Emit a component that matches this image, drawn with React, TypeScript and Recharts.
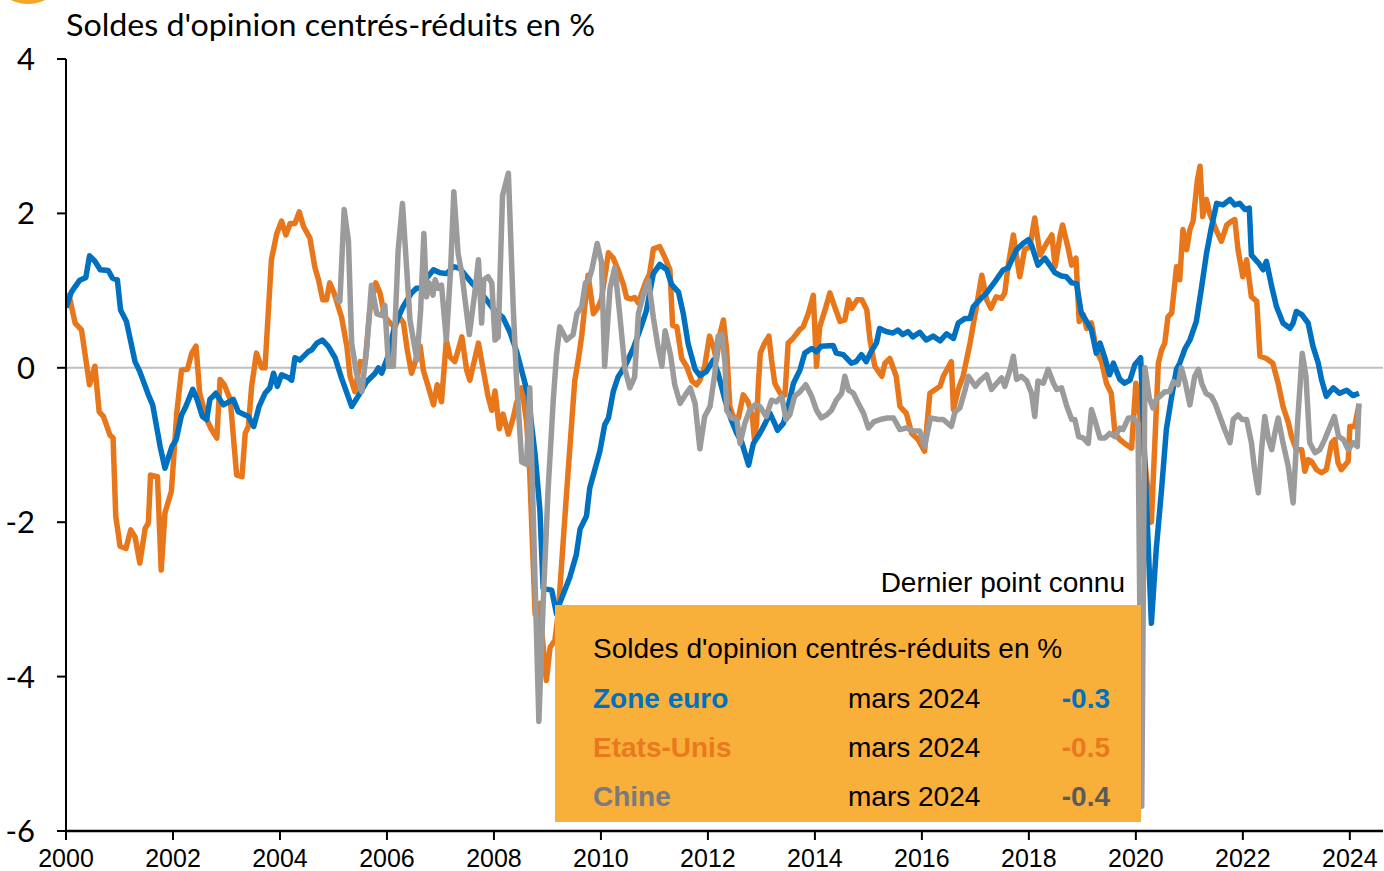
import React from 'react';
import { LineChart, Line, XAxis, YAxis, ReferenceLine } from 'recharts';

// années affichées et graduations
const yearTicks = [2000, 2002, 2004, 2006, 2008, 2010, 2012, 2014, 2016, 2018, 2020, 2022, 2024];
const valueTicks = [-6, -4, -2, 0, 2, 4];

// [date décimale, solde centré-réduit]
const zoneEuro: [number, number][] = [
  [2000.0, 0.78], [2000.1, 0.98], [2000.25, 1.13], [2000.37, 1.17], [2000.44, 1.45], [2000.54, 1.38],
  [2000.64, 1.27], [2000.79, 1.26], [2000.87, 1.16], [2000.96, 1.14], [2001.02, 0.75], [2001.13, 0.6],
  [2001.29, 0.08], [2001.38, -0.05], [2001.54, -0.35], [2001.62, -0.48], [2001.76, -1.02], [2001.85, -1.3],
  [2001.98, -1.02], [2002.06, -0.93], [2002.16, -0.61], [2002.24, -0.5], [2002.37, -0.28], [2002.45, -0.41],
  [2002.55, -0.63], [2002.63, -0.67], [2002.69, -0.41], [2002.8, -0.33], [2002.94, -0.48], [2003.13, -0.41],
  [2003.22, -0.57], [2003.41, -0.63], [2003.51, -0.76], [2003.61, -0.5], [2003.72, -0.33], [2003.81, -0.26],
  [2003.88, -0.07], [2003.95, -0.24], [2004.03, -0.09], [2004.16, -0.13], [2004.22, -0.16], [2004.28, 0.13],
  [2004.37, 0.1], [2004.53, 0.21], [2004.59, 0.23], [2004.69, 0.32], [2004.79, 0.36], [2004.9, 0.28],
  [2005.03, 0.13], [2005.15, -0.13], [2005.34, -0.5], [2005.46, -0.37], [2005.62, -0.18], [2005.78, -0.07],
  [2005.84, 0.0], [2005.9, -0.07], [2006.02, 0.15], [2006.15, 0.56], [2006.3, 0.79], [2006.46, 0.97],
  [2006.55, 1.03], [2006.62, 1.03], [2006.74, 1.16], [2006.87, 1.27], [2006.99, 1.23], [2007.12, 1.22],
  [2007.24, 1.31], [2007.36, 1.29], [2007.49, 1.18], [2007.61, 1.08], [2007.74, 0.99], [2007.86, 0.88],
  [2008.0, 0.75], [2008.17, 0.65], [2008.3, 0.46], [2008.42, 0.22], [2008.55, -0.12], [2008.64, -0.36],
  [2008.77, -1.13], [2008.86, -1.85], [2008.92, -2.86], [2009.08, -2.88], [2009.17, -3.19], [2009.23, -3.05],
  [2009.42, -2.71], [2009.54, -2.42], [2009.61, -2.09], [2009.73, -1.92], [2009.79, -1.56], [2009.98, -1.08],
  [2010.07, -0.74], [2010.14, -0.65], [2010.23, -0.31], [2010.32, -0.12], [2010.45, 0.02], [2010.61, 0.26],
  [2010.76, 0.55], [2010.85, 0.74], [2010.98, 1.22], [2011.1, 1.34], [2011.23, 1.27], [2011.32, 1.08],
  [2011.45, 0.98], [2011.54, 0.7], [2011.63, 0.31], [2011.76, -0.02], [2011.85, -0.1], [2011.97, -0.05],
  [2012.1, 0.1], [2012.19, -0.07], [2012.32, -0.42], [2012.44, -0.68], [2012.54, -0.85], [2012.63, -0.96],
  [2012.76, -1.26], [2012.85, -0.98], [2012.97, -0.85], [2013.07, -0.72], [2013.16, -0.59], [2013.26, -0.74],
  [2013.3, -0.81], [2013.41, -0.72], [2013.5, -0.5], [2013.6, -0.2], [2013.72, -0.03], [2013.81, 0.19],
  [2013.94, 0.25], [2014.03, 0.21], [2014.12, 0.28], [2014.34, 0.29], [2014.4, 0.19], [2014.53, 0.17],
  [2014.68, 0.06], [2014.77, 0.08], [2014.87, 0.17], [2014.96, 0.08], [2015.05, 0.21], [2015.15, 0.32],
  [2015.21, 0.51], [2015.33, 0.47], [2015.46, 0.45], [2015.55, 0.49], [2015.64, 0.43], [2015.74, 0.47],
  [2015.83, 0.4], [2015.96, 0.46], [2016.08, 0.36], [2016.21, 0.41], [2016.34, 0.35], [2016.46, 0.44],
  [2016.59, 0.38], [2016.68, 0.58], [2016.81, 0.64], [2016.9, 0.64], [2016.96, 0.79], [2017.08, 0.88],
  [2017.21, 0.97], [2017.37, 1.12], [2017.52, 1.27], [2017.61, 1.29], [2017.77, 1.53], [2017.89, 1.61],
  [2017.99, 1.66], [2018.05, 1.59], [2018.17, 1.33], [2018.3, 1.42], [2018.39, 1.33], [2018.49, 1.23],
  [2018.61, 1.19], [2018.7, 1.18], [2018.8, 1.1], [2018.89, 1.09], [2018.98, 0.71], [2019.08, 0.6],
  [2019.17, 0.49], [2019.26, 0.19], [2019.33, 0.32], [2019.42, 0.13], [2019.51, -0.09], [2019.58, 0.06],
  [2019.7, -0.15], [2019.79, -0.2], [2019.89, -0.16], [2019.98, 0.04], [2020.09, 0.13], [2020.29, -3.31],
  [2020.38, -2.36], [2020.48, -1.58], [2020.57, -0.8], [2020.67, -0.37], [2020.76, -0.02], [2020.82, 0.06],
  [2020.92, 0.25], [2021.01, 0.36], [2021.13, 0.6], [2021.23, 1.05], [2021.32, 1.48], [2021.41, 1.81],
  [2021.51, 2.13], [2021.63, 2.11], [2021.76, 2.18], [2021.85, 2.11], [2021.94, 2.13], [2022.04, 2.05],
  [2022.12, 2.07], [2022.16, 1.46], [2022.29, 1.36], [2022.38, 1.27], [2022.44, 1.38], [2022.54, 1.05],
  [2022.63, 0.79], [2022.75, 0.58], [2022.88, 0.51], [2022.94, 0.58], [2023.0, 0.73], [2023.1, 0.69],
  [2023.22, 0.58], [2023.31, 0.28], [2023.41, 0.06], [2023.47, -0.15], [2023.56, -0.37], [2023.69, -0.26],
  [2023.81, -0.33], [2023.94, -0.29], [2024.06, -0.36], [2024.17, -0.33],
];

const etatsUnis: [number, number][] = [
  [2000.0, 0.95], [2000.07, 0.9], [2000.17, 0.58], [2000.29, 0.49], [2000.44, -0.22], [2000.54, 0.02],
  [2000.62, -0.57], [2000.7, -0.63], [2000.82, -0.87], [2000.88, -0.91], [2000.93, -1.92], [2001.01, -2.31],
  [2001.12, -2.34], [2001.21, -2.1], [2001.29, -2.19], [2001.38, -2.53], [2001.48, -2.08], [2001.54, -2.01],
  [2001.58, -1.39], [2001.71, -1.41], [2001.78, -2.62], [2001.85, -1.88], [2001.97, -1.6], [2002.07, -0.59],
  [2002.16, -0.03], [2002.27, -0.02], [2002.35, 0.19], [2002.43, 0.28], [2002.5, -0.33], [2002.63, -0.67],
  [2002.72, -0.8], [2002.82, -0.91], [2002.88, -0.15], [2002.96, -0.22], [2003.07, -0.41], [2003.19, -1.39],
  [2003.29, -1.41], [2003.35, -0.85], [2003.41, -0.76], [2003.47, -0.24], [2003.56, 0.19], [2003.66, 0.0],
  [2003.72, 0.0], [2003.84, 1.4], [2003.94, 1.74], [2004.03, 1.9], [2004.11, 1.72], [2004.19, 1.87],
  [2004.28, 1.87], [2004.36, 2.02], [2004.44, 1.83], [2004.56, 1.68], [2004.65, 1.31], [2004.72, 1.14],
  [2004.8, 0.88], [2004.87, 0.88], [2004.93, 1.1], [2005.01, 0.97], [2005.09, 0.79], [2005.15, 0.66],
  [2005.25, 0.28], [2005.31, -0.11], [2005.4, -0.31], [2005.5, 0.08], [2005.59, 0.06], [2005.68, 0.75],
  [2005.79, 1.1], [2005.87, 0.97], [2005.96, 0.66], [2006.06, 0.58], [2006.15, 0.53], [2006.23, 0.66],
  [2006.31, 0.58], [2006.38, 0.23], [2006.46, -0.07], [2006.52, 0.06], [2006.62, 0.28], [2006.68, -0.03],
  [2006.77, -0.24], [2006.87, -0.48], [2006.94, -0.22], [2007.02, -0.44], [2007.11, 0.36], [2007.18, 0.14],
  [2007.27, 0.08], [2007.4, 0.4], [2007.49, -0.03], [2007.55, -0.16], [2007.61, 0.02], [2007.71, 0.32],
  [2007.8, -0.03], [2007.89, -0.37], [2007.96, -0.55], [2008.02, -0.3], [2008.1, -0.79], [2008.17, -0.6],
  [2008.27, -0.86], [2008.36, -0.65], [2008.42, -0.46], [2008.52, -0.26], [2008.61, -0.7], [2008.67, -1.37],
  [2008.77, -3.19], [2008.86, -3.05], [2008.89, -3.38], [2008.98, -4.05], [2009.05, -3.62], [2009.14, -3.53],
  [2009.2, -3.19], [2009.36, -1.6], [2009.51, -0.17], [2009.58, 0.12], [2009.64, 0.41], [2009.76, 1.2],
  [2009.86, 0.7], [2009.95, 0.79], [2010.01, 0.89], [2010.14, 1.49], [2010.23, 1.42], [2010.32, 1.27],
  [2010.42, 1.08], [2010.48, 0.91], [2010.57, 0.89], [2010.63, 0.91], [2010.7, 0.84], [2010.76, 0.96],
  [2010.85, 1.13], [2010.91, 1.22], [2010.98, 1.54], [2011.1, 1.57], [2011.2, 1.42], [2011.29, 1.27],
  [2011.34, 0.55], [2011.42, 0.53], [2011.51, 0.12], [2011.6, 0.02], [2011.7, -0.17], [2011.79, -0.22],
  [2011.85, -0.16], [2011.94, 0.02], [2012.03, 0.41], [2012.1, 0.28], [2012.16, 0.1], [2012.23, 0.45],
  [2012.29, 0.62], [2012.35, 0.23], [2012.41, -0.5], [2012.47, -0.63], [2012.57, -0.65], [2012.66, -0.35],
  [2012.75, -0.44], [2012.83, -0.63], [2012.87, -0.93], [2012.91, -0.72], [2012.94, -0.24], [2012.98, 0.19],
  [2013.06, 0.32], [2013.14, 0.41], [2013.19, 0.1], [2013.25, -0.2], [2013.35, -0.33], [2013.44, -0.35],
  [2013.5, 0.32], [2013.59, 0.38], [2013.71, 0.49], [2013.78, 0.53], [2013.88, 0.71], [2013.97, 0.94],
  [2014.03, 0.02], [2014.09, 0.53], [2014.19, 0.75], [2014.28, 0.97], [2014.37, 0.79], [2014.47, 0.6],
  [2014.56, 0.62], [2014.63, 0.88], [2014.69, 0.77], [2014.79, 0.88], [2014.88, 0.88], [2014.97, 0.75],
  [2015.03, 0.36], [2015.12, 0.02], [2015.25, -0.11], [2015.31, 0.06], [2015.4, 0.12], [2015.52, -0.11],
  [2015.59, -0.5], [2015.71, -0.59], [2015.81, -0.85], [2015.93, -0.93], [2016.05, -1.08], [2016.15, -0.33],
  [2016.34, -0.24], [2016.4, -0.11], [2016.55, 0.08], [2016.59, -0.54], [2016.68, -0.28], [2016.77, -0.11],
  [2016.9, 0.32], [2017.02, 0.79], [2017.12, 1.2], [2017.21, 0.88], [2017.29, 0.77], [2017.39, 0.92],
  [2017.49, 0.9], [2017.55, 0.97], [2017.61, 1.31], [2017.71, 1.72], [2017.77, 1.44], [2017.83, 1.18],
  [2017.92, 1.53], [2018.02, 1.57], [2018.11, 1.94], [2018.21, 1.46], [2018.33, 1.61], [2018.43, 1.72],
  [2018.49, 1.31], [2018.58, 1.7], [2018.63, 1.85], [2018.74, 1.53], [2018.8, 1.33], [2018.88, 1.42],
  [2018.94, 0.6], [2019.02, 0.69], [2019.08, 0.51], [2019.17, 0.58], [2019.26, 0.23], [2019.36, 0.08],
  [2019.45, -0.2], [2019.54, -0.33], [2019.61, -0.85], [2019.7, -0.93], [2019.79, -0.98], [2019.92, -1.04],
  [2020.0, -0.2], [2020.07, -0.59], [2020.29, -2.0], [2020.42, 0.06], [2020.48, 0.23], [2020.54, 0.32],
  [2020.6, 0.66], [2020.67, 0.71], [2020.76, 1.31], [2020.82, 1.14], [2020.88, 1.79], [2020.95, 1.53],
  [2021.01, 1.79], [2021.07, 1.9], [2021.15, 2.43], [2021.2, 2.61], [2021.25, 1.96], [2021.32, 2.18],
  [2021.38, 2.0], [2021.51, 1.77], [2021.6, 1.64], [2021.7, 1.85], [2021.79, 1.9], [2021.85, 1.92],
  [2021.91, 1.53], [2022.0, 1.18], [2022.07, 1.4], [2022.16, 0.92], [2022.26, 0.86], [2022.32, 0.15],
  [2022.44, 0.12], [2022.56, 0.06], [2022.66, -0.2], [2022.75, -0.5], [2022.85, -0.71], [2022.91, -0.89],
  [2023.0, -1.06], [2023.1, -1.06], [2023.16, -1.34], [2023.22, -1.19], [2023.28, -1.21], [2023.38, -1.32],
  [2023.47, -1.36], [2023.56, -1.32], [2023.66, -0.97], [2023.72, -0.93], [2023.78, -1.23], [2023.84, -1.32],
  [2023.97, -1.21], [2024.0, -0.76], [2024.09, -0.76], [2024.17, -0.48],
];

const chine: [number, number][] = [
  [2005.03, 0.92], [2005.12, 0.86], [2005.2, 2.05], [2005.28, 1.64], [2005.34, 0.32], [2005.43, -0.07],
  [2005.53, -0.31], [2005.62, 0.23], [2005.71, 1.07], [2005.81, 0.7], [2005.9, 0.68], [2005.96, 0.81],
  [2006.03, 0.02], [2006.12, 0.02], [2006.21, 1.53], [2006.29, 2.13], [2006.37, 1.27], [2006.43, 0.62],
  [2006.56, 0.1], [2006.63, 0.75], [2006.69, 1.74], [2006.74, 0.92], [2006.79, 1.1], [2006.86, 0.94],
  [2006.9, 1.14], [2006.96, 1.03], [2007.02, 1.07], [2007.11, 0.36], [2007.19, 1.27], [2007.25, 2.28],
  [2007.33, 1.48], [2007.4, 1.22], [2007.46, 0.88], [2007.54, 0.43], [2007.64, 0.96], [2007.71, 1.4],
  [2007.77, 0.58], [2007.81, 1.14], [2007.89, 1.18], [2007.96, 1.1], [2008.02, 0.36], [2008.08, 0.4],
  [2008.16, 2.23], [2008.27, 2.52], [2008.36, 0.79], [2008.42, -0.12], [2008.52, -1.22], [2008.61, -1.25],
  [2008.67, -0.26], [2008.84, -4.58], [2008.92, -3.05], [2009.01, -1.61], [2009.11, -0.41], [2009.17, 0.17],
  [2009.23, 0.53], [2009.36, 0.36], [2009.48, 0.43], [2009.55, 0.7], [2009.64, 0.79], [2009.71, 1.1],
  [2009.77, 1.13], [2009.83, 1.27], [2009.93, 1.61], [2010.01, 1.37], [2010.07, 0.02], [2010.17, 1.03],
  [2010.26, 1.3], [2010.35, 0.7], [2010.45, -0.02], [2010.54, -0.26], [2010.63, -0.12], [2010.7, 0.7],
  [2010.79, 0.94], [2010.89, 1.13], [2010.98, 0.65], [2011.07, 0.26], [2011.14, 0.02], [2011.2, 0.48],
  [2011.3, 0.17], [2011.38, -0.22], [2011.48, -0.46], [2011.57, -0.36], [2011.67, -0.26], [2011.76, -0.46],
  [2011.85, -1.05], [2011.94, -0.63], [2012.04, -0.5], [2012.13, -0.07], [2012.19, 0.41], [2012.26, 0.43],
  [2012.32, 0.06], [2012.35, -0.55], [2012.44, -0.65], [2012.54, -0.67], [2012.6, -0.98], [2012.69, -0.72],
  [2012.78, -0.55], [2012.88, -0.48], [2012.97, -0.5], [2013.09, -0.63], [2013.19, -0.42], [2013.28, -0.44],
  [2013.38, -0.37], [2013.46, -0.67], [2013.53, -0.61], [2013.62, -0.37], [2013.72, -0.31], [2013.83, -0.22],
  [2013.94, -0.37], [2014.03, -0.55], [2014.12, -0.65], [2014.22, -0.61], [2014.31, -0.55], [2014.4, -0.42],
  [2014.5, -0.33], [2014.56, -0.11], [2014.63, -0.29], [2014.72, -0.33], [2014.81, -0.46], [2014.91, -0.59],
  [2015.0, -0.78], [2015.1, -0.7], [2015.22, -0.67], [2015.35, -0.65], [2015.47, -0.65], [2015.59, -0.8],
  [2015.71, -0.78], [2015.84, -0.82], [2015.96, -0.82], [2016.05, -1.02], [2016.16, -0.65], [2016.31, -0.67],
  [2016.4, -0.67], [2016.55, -0.76], [2016.62, -0.57], [2016.71, -0.52], [2016.81, -0.28], [2016.87, -0.11],
  [2017.0, -0.24], [2017.08, -0.17], [2017.21, -0.09], [2017.3, -0.28], [2017.4, -0.2], [2017.49, -0.13],
  [2017.55, -0.24], [2017.65, -0.02], [2017.71, 0.15], [2017.77, -0.15], [2017.86, -0.11], [2017.96, -0.17],
  [2018.05, -0.33], [2018.11, -0.63], [2018.17, -0.17], [2018.27, -0.2], [2018.36, -0.02], [2018.46, -0.2],
  [2018.52, -0.28], [2018.61, -0.26], [2018.71, -0.5], [2018.8, -0.67], [2018.86, -0.67], [2018.93, -0.89],
  [2019.02, -0.91], [2019.11, -0.98], [2019.17, -0.54], [2019.23, -0.67], [2019.33, -0.91], [2019.42, -0.91],
  [2019.51, -0.85], [2019.61, -0.89], [2019.7, -0.78], [2019.76, -0.8], [2019.86, -0.65], [2019.95, -0.65],
  [2020.04, -0.72], [2020.11, -5.68], [2020.17, 0.0], [2020.25, -0.39], [2020.32, -0.52], [2020.38, -0.41],
  [2020.48, -0.35], [2020.54, -0.31], [2020.63, -0.31], [2020.7, -0.18], [2020.79, -0.22], [2020.85, 0.0],
  [2020.92, -0.18], [2021.01, -0.48], [2021.1, -0.11], [2021.17, -0.02], [2021.23, -0.2], [2021.31, -0.33],
  [2021.41, -0.37], [2021.48, -0.46], [2021.57, -0.63], [2021.66, -0.8], [2021.76, -0.97], [2021.82, -0.67],
  [2021.91, -0.61], [2021.99, -0.67], [2022.07, -0.67], [2022.16, -0.97], [2022.22, -1.32], [2022.29, -1.62],
  [2022.35, -1.06], [2022.41, -0.63], [2022.48, -0.93], [2022.54, -1.06], [2022.6, -0.84], [2022.66, -0.65],
  [2022.75, -0.97], [2022.85, -1.28], [2022.94, -1.75], [2023.03, -0.63], [2023.11, 0.19], [2023.18, -0.11],
  [2023.25, -0.97], [2023.35, -1.1], [2023.44, -1.06], [2023.53, -0.93], [2023.63, -0.76], [2023.71, -0.63],
  [2023.79, -0.89], [2023.88, -0.93], [2023.97, -1.06], [2024.06, -0.97], [2024.14, -1.02], [2024.17, -0.46],
];

const toRows = (pts: [number, number][]) => pts.map(([t, v]) => ({ t, v }));

const BLUE = '#0070C0';
const ORANGE = '#E8771C';
const GREY = '#9B9B9B';

const XTick = ({ x, payload }: any) => (
  <text x={x} y={867} textAnchor="middle" fontFamily="'Liberation Sans', Arial, sans-serif" fontSize={25} fill="#000">
    {payload.value}
  </text>
);

const YTick = ({ y, payload }: any) => (
  <text x={35} y={y + 11} textAnchor="end" fontFamily="Lato, 'Open Sans', sans-serif" fontSize={31} fill="#000">
    {payload.value}
  </text>
);

const legendRows = [
  { name: 'Zone euro', date: 'mars 2024', last: '-0.3', color: BLUE, valueColor: BLUE },
  { name: 'Etats-Unis', date: 'mars 2024', last: '-0.5', color: '#E9791F', valueColor: '#E9791F' },
  { name: 'Chine', date: 'mars 2024', last: '-0.4', color: '#7A7A7A', valueColor: '#5A5A5A' },
];

export default function App() {
  const arial = "'Liberation Sans', Arial, sans-serif";
  return (
    <div style={{ position: 'absolute', left: 0, top: 0, width: 1384, height: 871, background: '#fff', overflow: 'hidden' }}>
      <LineChart width={1384} height={871} margin={{ top: 59, right: 1, bottom: 0, left: 0 }}>
        <XAxis
          dataKey="t"
          type="number"
          domain={[2000, 2024.62]}
          ticks={yearTicks}
          allowDataOverflow
          height={40}
          tickSize={9}
          axisLine={{ stroke: '#000', strokeWidth: 2.5 }}
          tickLine={{ stroke: '#000', strokeWidth: 2 }}
          tick={<XTick />}
          interval={0}
        />
        <YAxis
          type="number"
          domain={[-6, 4]}
          ticks={valueTicks}
          allowDataOverflow
          width={66}
          tickSize={9}
          axisLine={{ stroke: '#000', strokeWidth: 2 }}
          tickLine={{ stroke: '#000', strokeWidth: 2 }}
          tick={<YTick />}
          interval={0}
        />
        <ReferenceLine y={0} stroke="#BFBFBF" strokeWidth={2} />
        <Line data={toRows(etatsUnis)} dataKey="v" type="linear" stroke={ORANGE} strokeWidth={5.5} dot={false} strokeLinejoin="round" isAnimationActive={false} />
        <Line data={toRows(zoneEuro)} dataKey="v" type="linear" stroke={BLUE} strokeWidth={5.5} dot={false} strokeLinejoin="round" isAnimationActive={false} />
        <Line data={toRows(chine)} dataKey="v" type="linear" stroke={GREY} strokeWidth={5.5} dot={false} strokeLinejoin="round" isAnimationActive={false} />
      </LineChart>

      <svg width={1384} height={871} style={{ position: 'absolute', left: 0, top: 0, pointerEvents: 'none' }}>
        <ellipse cx={28} cy={-26} rx={34} ry={30} fill="#F4A62A" />
        <text x={66} y={36} fontFamily="Lato, 'Open Sans', sans-serif" fontSize={31} textLength={529} lengthAdjust="spacingAndGlyphs" fill="#000">
          Soldes d'opinion centrés-réduits en %
        </text>
        <text x={1125} y={592} textAnchor="end" fontFamily={arial} fontSize={28} fill="#000">
          Dernier point connu
        </text>
        <rect x={555} y={605} width={586} height={217} fill="#F8B03B" />
        <text x={593} y={658} fontFamily={arial} fontSize={28} fill="#000">
          Soldes d'opinion centrés-réduits en %
        </text>
        {legendRows.map((r, i) => (
          <g key={r.name}>
            <text x={593} y={708 + i * 49} fontFamily={arial} fontSize={28} fontWeight="bold" fill={r.color}>{r.name}</text>
            <text x={848} y={708 + i * 49} fontFamily={arial} fontSize={28} fill="#000">{r.date}</text>
            <text x={1110} y={708 + i * 49} textAnchor="end" fontFamily={arial} fontSize={28} fontWeight="bold" fill={r.valueColor}>{r.last}</text>
          </g>
        ))}
      </svg>
    </div>
  );
}
